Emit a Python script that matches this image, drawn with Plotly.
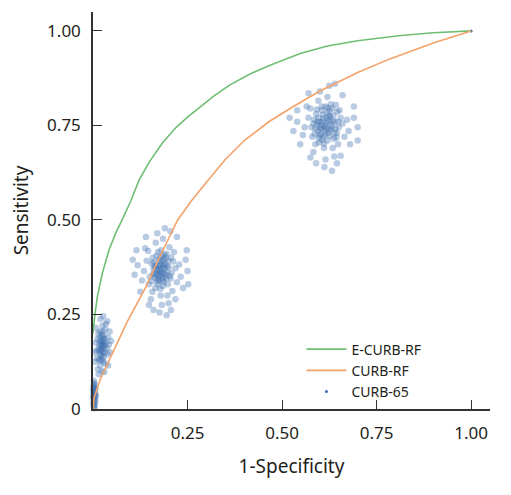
import plotly.graph_objects as go

# ROC curves (1-Specificity, Sensitivity)
ecurb_fpr = [0, 0.002, 0.005, 0.012, 0.025, 0.042, 0.06, 0.077, 0.10, 0.122, 0.15, 0.184, 0.22, 0.25, 0.281,
             0.32, 0.36, 0.415, 0.47, 0.548, 0.62, 0.70, 0.814, 0.90, 1.0]
ecurb_tpr = [0.20, 0.23, 0.25, 0.30, 0.36, 0.42, 0.465, 0.50, 0.55, 0.606, 0.655, 0.704, 0.745, 0.772, 0.797,
             0.828, 0.856, 0.886, 0.91, 0.94, 0.96, 0.974, 0.988, 0.995, 1.0]

curb_fpr = [0, 0.003, 0.02, 0.051, 0.09, 0.14, 0.18, 0.224, 0.26, 0.30, 0.35, 0.40, 0.467, 0.53, 0.60,
            0.70, 0.785, 0.90, 1.0]
curb_tpr = [0, 0.03, 0.08, 0.145, 0.23, 0.323, 0.41, 0.50, 0.55, 0.60, 0.66, 0.71, 0.761, 0.80, 0.841,
            0.89, 0.926, 0.968, 1.0]

# CURB-65 bootstrap points, read as clouds
cluster1 = [(0.002,0.030),(0.004,0.045),(0.001,0.015),(0.003,0.060),(0.005,0.025),(0.002,0.050),(0.006,0.040),
            (0.001,0.035),(0.003,0.010),(0.004,0.068),(0.002,0.005),(0.007,0.055),(0.001,0.058),(0.005,0.012),
            (0.003,0.038),(0.006,0.020),(0.002,0.075),(0.008,0.035),(0.004,0.002),(0.001,0.048),
            (0.003,0.022),(0.002,0.042),(0.004,0.052),(0.001,0.028),(0.005,0.033),(0.003,0.065)]
cluster2 = [(0.025,0.165),(0.020,0.180),(0.030,0.150),(0.022,0.140),(0.028,0.195),(0.015,0.160),(0.035,0.175),
            (0.018,0.205),(0.027,0.125),(0.012,0.185),(0.038,0.145),(0.024,0.170),(0.016,0.130),(0.032,0.210),
            (0.010,0.155),(0.040,0.190),(0.026,0.188),(0.021,0.152),(0.031,0.168),(0.014,0.200),(0.036,0.160),
            (0.023,0.178),(0.029,0.138),(0.033,0.120),(0.017,0.172),(0.025,0.220),(0.011,0.135),(0.042,0.170),
            (0.019,0.115),(0.034,0.225),(0.008,0.175),(0.045,0.150),(0.013,0.105),(0.038,0.232),(0.024,0.100),
            (0.007,0.215),(0.044,0.205),(0.020,0.238),(0.030,0.098),(0.005,0.150),(0.048,0.180),(0.027,0.245),
            (0.015,0.092),(0.040,0.115),(0.006,0.125),
            (0.022,0.158),(0.027,0.172),(0.019,0.145),(0.031,0.185),(0.024,0.132),(0.018,0.190),(0.029,0.160),
            (0.021,0.166),(0.026,0.148),(0.023,0.195),(0.017,0.155),(0.028,0.180),(0.020,0.128),(0.025,0.205)]
cluster3 = [(0.180,0.367),(0.170,0.380),(0.192,0.355),(0.175,0.340),(0.188,0.395),(0.162,0.360),(0.200,0.375),
            (0.168,0.405),(0.185,0.325),(0.155,0.385),(0.205,0.345),(0.178,0.362),(0.165,0.320),(0.195,0.410),
            (0.150,0.350),(0.212,0.390),(0.182,0.390),(0.172,0.345),(0.190,0.372),(0.158,0.400),(0.208,0.360),
            (0.176,0.378),(0.186,0.348),(0.198,0.330),(0.160,0.370),(0.180,0.420),(0.148,0.330),(0.218,0.372),
            (0.173,0.356),(0.192,0.400),(0.142,0.392),(0.222,0.335),(0.157,0.310),(0.202,0.428),(0.179,0.300),
            (0.146,0.418),(0.214,0.415),(0.166,0.440),(0.197,0.300),(0.135,0.365),(0.228,0.382),(0.185,0.450),
            (0.153,0.290),(0.210,0.312),(0.130,0.340),(0.170,0.465),(0.200,0.280),(0.232,0.350),(0.138,0.425),
            (0.182,0.275),(0.118,0.380),(0.245,0.395),(0.238,0.320),(0.125,0.310),(0.190,0.478),(0.222,0.455),
            (0.160,0.262),(0.206,0.262),(0.110,0.355),(0.250,0.365),(0.140,0.455),(0.176,0.255),(0.218,0.290),
            (0.105,0.395),(0.195,0.248),(0.248,0.420),(0.205,0.470),(0.148,0.275),(0.252,0.330),(0.115,0.420),
            (0.177,0.352),(0.184,0.372),(0.169,0.366),(0.191,0.384),(0.174,0.392),(0.196,0.362),(0.164,0.347),
            (0.187,0.336),(0.171,0.330),(0.183,0.404),(0.199,0.392),(0.161,0.388),(0.179,0.382),(0.188,0.360),
            (0.166,0.372),(0.203,0.352),(0.178,0.318),(0.156,0.338),(0.207,0.400),(0.172,0.415),
            (0.181,0.358),(0.174,0.370),(0.186,0.380),(0.168,0.355),(0.193,0.345),(0.177,0.398),(0.163,0.378),
            (0.189,0.408),(0.171,0.338),(0.184,0.342),(0.196,0.378),(0.159,0.355)]
cluster4 = [(0.615,0.750),(0.600,0.760),(0.630,0.740),(0.610,0.720),(0.625,0.775),(0.595,0.735),(0.640,0.760),
            (0.605,0.790),(0.620,0.710),(0.585,0.765),(0.645,0.730),(0.612,0.745),(0.598,0.705),(0.633,0.795),
            (0.578,0.745),(0.655,0.770),(0.618,0.770),(0.602,0.728),(0.628,0.755),(0.590,0.780),(0.650,0.745),
            (0.608,0.760),(0.622,0.730),(0.637,0.715),(0.593,0.752),(0.616,0.800),(0.580,0.720),(0.660,0.755),
            (0.604,0.742),(0.626,0.788),(0.570,0.770),(0.665,0.720),(0.588,0.700),(0.642,0.805),(0.611,0.690),
            (0.575,0.795),(0.652,0.790),(0.596,0.815),(0.634,0.690),(0.560,0.745),(0.672,0.765),(0.620,0.825),
            (0.583,0.680),(0.648,0.700),(0.555,0.725),(0.600,0.840),(0.638,0.668),(0.676,0.735),(0.565,0.800),
            (0.615,0.660),(0.540,0.760),(0.690,0.770),(0.680,0.700),(0.548,0.700),(0.625,0.855),(0.660,0.830),
            (0.590,0.650),(0.645,0.650),(0.530,0.735),(0.700,0.745),(0.570,0.835),(0.612,0.640),(0.655,0.670),
            (0.520,0.770),(0.632,0.630),(0.690,0.800),(0.640,0.860),(0.575,0.665),(0.700,0.710),(0.540,0.790),
            (0.613,0.735),(0.623,0.763),(0.603,0.752),(0.632,0.748),(0.608,0.778),(0.627,0.722),(0.596,0.770),
            (0.619,0.784),(0.641,0.742),(0.588,0.742),(0.606,0.712),(0.636,0.776),(0.617,0.757),(0.599,0.724),
            (0.648,0.760),(0.583,0.755),(0.629,0.806),(0.611,0.702),(0.644,0.718),(0.592,0.792),
            (0.618,0.742),(0.609,0.768),(0.626,0.738),(0.601,0.744),(0.621,0.796),(0.634,0.762),(0.597,0.716),
            (0.614,0.726),(0.639,0.730),(0.605,0.800),(0.586,0.728),(0.627,0.772),(0.646,0.786),(0.594,0.760)]
endpoint = [(1.0, 1.0)]

x_ticks = [0.25, 0.5, 0.75, 1.0]
x_ticktext = ["0.25", "0.50", "0.75", "1.00"]
y_ticks = [0, 0.25, 0.5, 0.75, 1.0]
y_ticktext = ["0", "0.25", "0.50", "0.75", "1.00"]

GREEN = "#6fbf73"
ORANGE = "#f3a26a"
BLUE = "#3d6eae"
FONT = "Noto Sans"
TXT = "#231f20"

fig = go.Figure()
pts = cluster1 + cluster2 + cluster3 + cluster4
fig.add_trace(go.Scatter(x=[p[0] for p in pts], y=[p[1] for p in pts], mode="markers",
                         marker=dict(size=6.5, color=BLUE, opacity=0.36, line=dict(width=0)),
                         showlegend=False, cliponaxis=False))
fig.add_trace(go.Scatter(x=[p[0] for p in endpoint], y=[p[1] for p in endpoint], mode="markers",
                         marker=dict(size=3, color=BLUE), showlegend=False, cliponaxis=False))
fig.add_trace(go.Scatter(x=ecurb_fpr, y=ecurb_tpr, mode="lines", name="E-CURB-RF",
                         line=dict(color=GREEN, width=1.6)))
fig.add_trace(go.Scatter(x=curb_fpr, y=curb_tpr, mode="lines", name="CURB-RF",
                         line=dict(color=ORANGE, width=1.6)))
fig.add_trace(go.Scatter(x=[None], y=[None], mode="markers", name="CURB-65",
                         marker=dict(size=3, color=BLUE)))

fig.update_layout(
    width=511, height=495,
    margin=dict(l=85, r=29, t=4, b=94),
    paper_bgcolor="white", plot_bgcolor="white",
    font=dict(family=FONT, color=TXT, size=17),
    legend=dict(x=0.525, y=0.19, xanchor="left", yanchor="top", bgcolor="rgba(0,0,0,0)",
                font=dict(size=14, color=TXT), itemwidth=40, tracegroupgap=0),
    xaxis=dict(range=[0, 1.05], tickmode="array", tickvals=x_ticks, ticktext=x_ticktext, automargin=False,
               ticks="inside", ticklen=9, tickcolor="#333", tickwidth=1.2,
               showline=True, linecolor="#333", linewidth=1.5, showgrid=False, zeroline=False,
               ticklabelstandoff=8, tickfont=dict(size=17),
               title=dict(text="1-Specificity", font=dict(size=19, color=TXT), standoff=17)),
    yaxis=dict(range=[0, 1.05], tickmode="array", tickvals=y_ticks, ticktext=y_ticktext, automargin=False,
               ticks="inside", ticklen=9, tickcolor="#333", tickwidth=1.2,
               showline=True, linecolor="#333", linewidth=1.5, showgrid=False, zeroline=False,
               ticklabelstandoff=7, tickfont=dict(size=17),
               title=dict(text="Sensitivity", font=dict(size=19, color=TXT), standoff=19)),
)

fig.write_html("out.html")
